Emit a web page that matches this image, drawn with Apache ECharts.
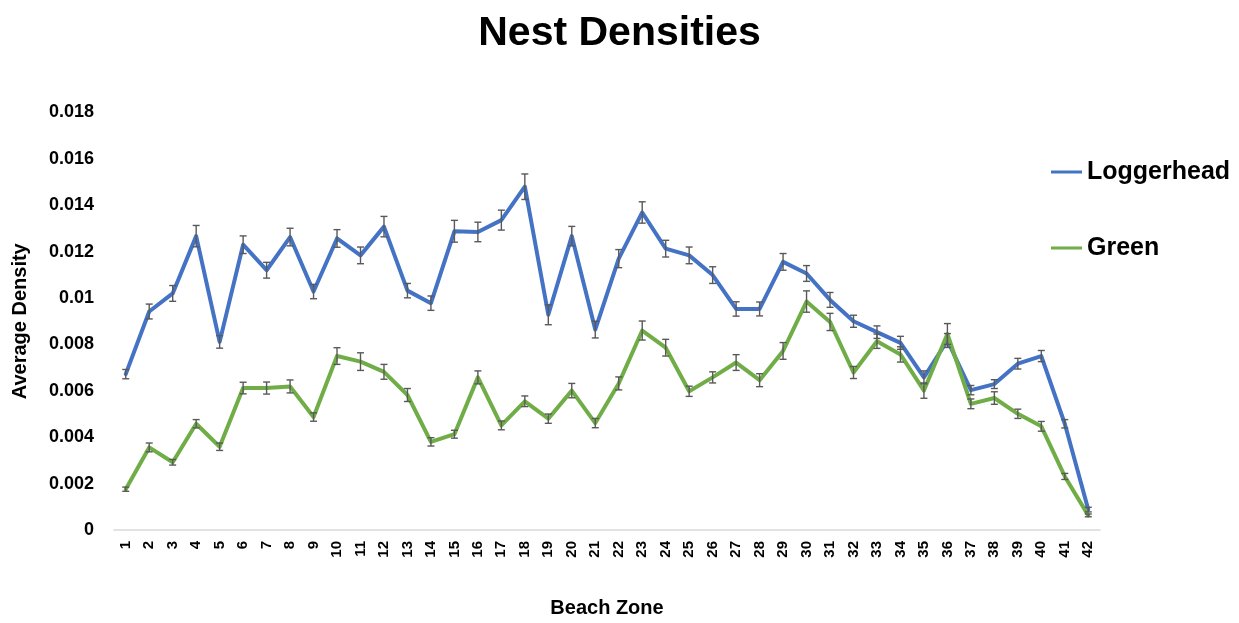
<!DOCTYPE html>
<html>
<head>
<meta charset="utf-8">
<title>Nest Densities</title>
<script src="https://cdn.jsdelivr.net/npm/echarts@6/dist/echarts.min.js"></script>
<style>
  html, body { margin: 0; padding: 0; background: #ffffff; }
  #chart { width: 1239px; height: 623px; }
</style>
</head>
<body>
<div id="chart"></div>
<script>
// Beach zones along the survey stretch
const zones = ['1','2','3','4','5','6','7','8','9','10','11','12','13','14','15','16','17','18','19','20','21',
               '22','23','24','25','26','27','28','29','30','31','32','33','34','35','36','37','38','39','40','41','42'];

// Average nest density per zone
const loggerhead = [0.00672, 0.00942, 0.01020, 0.01267, 0.00811, 0.01230, 0.01120, 0.01263, 0.01028, 0.01257,
                    0.01184, 0.01308, 0.01032, 0.00978, 0.01288, 0.01285, 0.01336, 0.01480, 0.00928, 0.01267,
                    0.00864, 0.01170, 0.01369, 0.01213, 0.01184, 0.01099, 0.00953, 0.00953, 0.01156, 0.01106,
                    0.00992, 0.00900, 0.00853, 0.00807, 0.00658, 0.00817, 0.00603, 0.00629, 0.00717, 0.00750,
                    0.00458, 0.00088];
const green = [0.00176, 0.00356, 0.00292, 0.00458, 0.00359, 0.00612, 0.00612, 0.00619, 0.00487, 0.00750,
               0.00726, 0.00682, 0.00582, 0.00380, 0.00413, 0.00658, 0.00451, 0.00555, 0.00480, 0.00601,
               0.00461, 0.00632, 0.00860, 0.00786, 0.00598, 0.00658, 0.00722, 0.00646, 0.00772, 0.00985,
               0.00897, 0.00679, 0.00814, 0.00757, 0.00601, 0.00845, 0.00544, 0.00569, 0.00501, 0.00447,
               0.00231, 0.00063];

// Standard error of each mean
const loggerheadErr = [0.00020, 0.00032, 0.00034, 0.00046, 0.00027, 0.00038, 0.00034, 0.00038, 0.00031, 0.00038,
                       0.00036, 0.00044, 0.00031, 0.00031, 0.00047, 0.00042, 0.00043, 0.00055, 0.00043, 0.00042,
                       0.00036, 0.00039, 0.00046, 0.00036, 0.00036, 0.00036, 0.00031, 0.00030, 0.00036, 0.00034,
                       0.00032, 0.00026, 0.00027, 0.00028, 0.00028, 0.00030, 0.00020, 0.00019, 0.00023, 0.00024,
                       0.00018, 0.00010];
const greenErr = [0.00009, 0.00019, 0.00012, 0.00018, 0.00016, 0.00025, 0.00026, 0.00028, 0.00018, 0.00036,
                  0.00038, 0.00032, 0.00028, 0.00018, 0.00017, 0.00028, 0.00019, 0.00023, 0.00020, 0.00031,
                  0.00020, 0.00028, 0.00041, 0.00036, 0.00022, 0.00024, 0.00034, 0.00028, 0.00036, 0.00046,
                  0.00037, 0.00026, 0.00031, 0.00033, 0.00033, 0.00045, 0.00021, 0.00027, 0.00020, 0.00021,
                  0.00013, 0.00006];

// Value axis range
const yMin = 0;
const yMax = 0.018;
const yStep = 0.002;

const seriesNames = ['Loggerhead', 'Green'];
const seriesColors = ['#4472C4', '#70AD47'];

const FONT = '"Liberation Sans", Arial, sans-serif';

// Error-bar rows: [zone index, mean, error]
function errorRows(values, errs) {
  return values.map((v, i) => [i, v, errs[i]]);
}

function renderErrorBar(params, api) {
  const idx = api.value(0);
  const mean = api.value(1);
  const err = api.value(2);
  const top = api.coord([idx, mean + err]);
  const bot = api.coord([idx, mean - err]);
  const hw = 3.5;
  const style = { stroke: '#595959', lineWidth: 1.4 };
  return {
    type: 'group',
    children: [
      { type: 'line', shape: { x1: top[0], y1: top[1], x2: bot[0], y2: bot[1] }, style: style },
      { type: 'line', shape: { x1: top[0] - hw, y1: top[1], x2: top[0] + hw, y2: top[1] }, style: style },
      { type: 'line', shape: { x1: bot[0] - hw, y1: bot[1], x2: bot[0] + hw, y2: bot[1] }, style: style }
    ]
  };
}

function lineSeries(name, values, color, z) {
  return {
    name: name,
    type: 'line',
    data: values,
    symbol: 'none',
    z: z,
    lineStyle: { color: color, width: 4, cap: 'round', join: 'round' },
    itemStyle: { color: color },
    emphasis: { disabled: true }
  };
}

function errorSeries(values, errs) {
  return {
    type: 'custom',
    data: errorRows(values, errs),
    renderItem: renderErrorBar,
    z: 5,
    silent: true,
    encode: { x: 0, y: 1 }
  };
}

const chart = echarts.init(document.getElementById('chart'), null, { renderer: 'canvas' });

chart.setOption({
  backgroundColor: '#ffffff',
  animation: false,
  title: {
    text: 'Nest Densities',
    left: 'center',
    top: 8,
    textStyle: { fontFamily: FONT, fontSize: 41, fontWeight: 'bold', color: '#000000' }
  },
  legend: {
    data: seriesNames.map((n, i) => ({ name: n, itemStyle: { color: seriesColors[i] } })),
    orient: 'vertical',
    left: 1046,
    top: 152,
    itemWidth: 31,
    itemHeight: 3,
    itemGap: 46,
    icon: 'rect',
    textStyle: { fontFamily: FONT, fontSize: 25, fontWeight: 'bold', color: '#000000', lineHeight: 30 }
  },
  grid: { left: 114, right: 139, top: 112.5, bottom: 89, containLabel: false },
  xAxis: {
    type: 'category',
    data: zones,
    boundaryGap: true,
    name: 'Beach Zone',
    nameLocation: 'middle',
    nameGap: 68,
    nameTextStyle: { fontFamily: FONT, fontSize: 20, fontWeight: 'bold', color: '#000000' },
    axisLine: { show: true, lineStyle: { color: '#d9d9d9', width: 1.5 } },
    axisTick: { show: false },
    axisLabel: {
      rotate: 90,
      interval: 0,
      margin: 11,
      fontFamily: FONT,
      fontSize: 15,
      fontWeight: 'bold',
      color: '#000000'
    },
    splitLine: { show: false }
  },
  yAxis: {
    type: 'value',
    min: yMin,
    max: yMax,
    interval: yStep,
    name: 'Average Density',
    nameLocation: 'middle',
    nameRotate: 90,
    nameGap: 84,
    nameTextStyle: { fontFamily: FONT, fontSize: 20, fontWeight: 'bold', color: '#000000' },
    axisLine: { show: false },
    axisTick: { show: false },
    splitLine: { show: false },
    axisLabel: {
      margin: 20,
      fontFamily: FONT,
      fontSize: 18,
      fontWeight: 'bold',
      color: '#000000'
    }
  },
  series: [
    lineSeries(seriesNames[0], loggerhead, seriesColors[0], 2),
    lineSeries(seriesNames[1], green, seriesColors[1], 3),
    errorSeries(loggerhead, loggerheadErr),
    errorSeries(green, greenErr)
  ]
});
</script>
</body>
</html>
